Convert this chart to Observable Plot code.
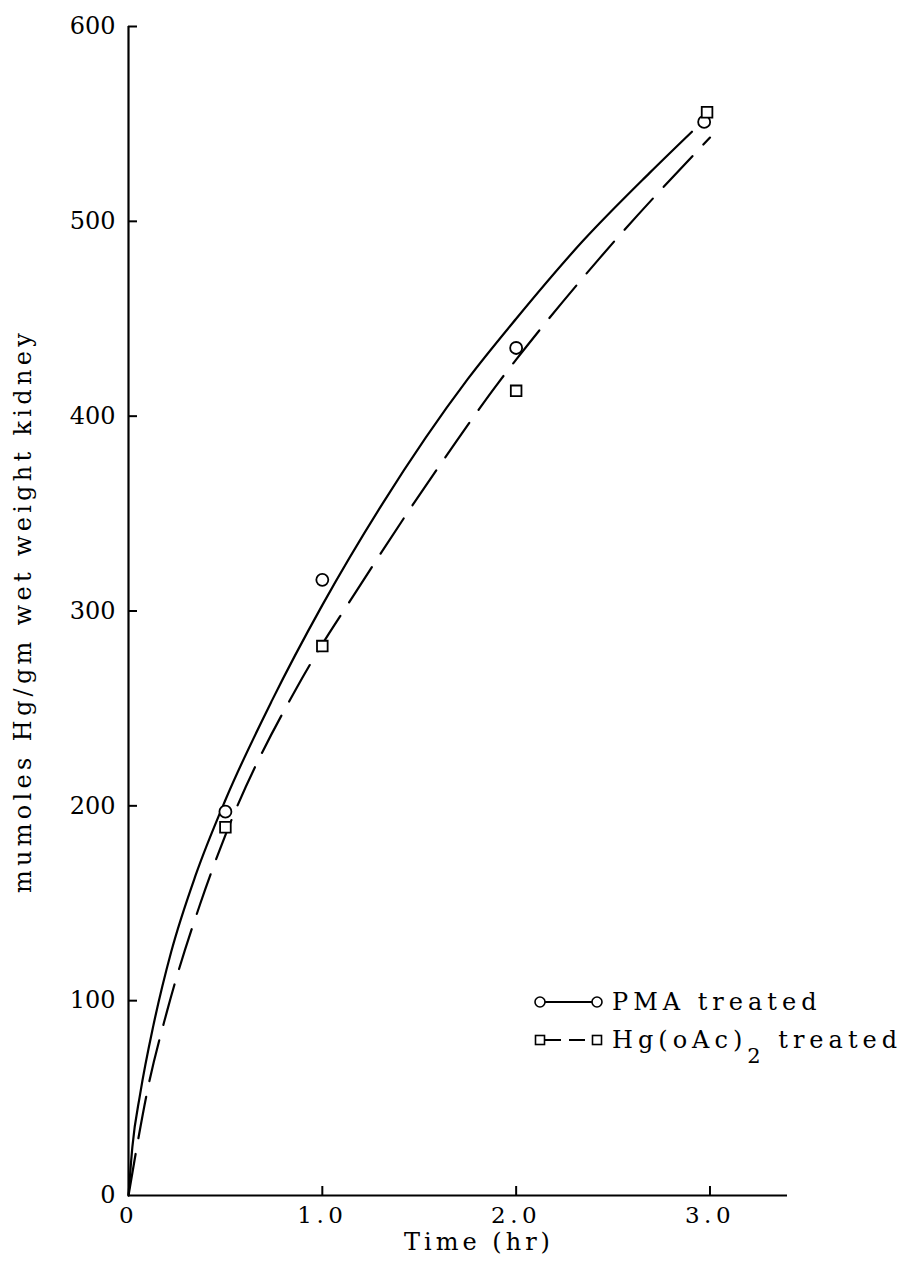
<!DOCTYPE html>
<html>
<head>
<meta charset="utf-8">
<script src="https://cdn.jsdelivr.net/npm/d3@7"></script>
<script src="https://cdn.jsdelivr.net/npm/@observablehq/plot@0.6"></script>
<style>
  html, body { margin: 0; padding: 0; background: #fff; }
  #chart { position: relative; width: 903px; height: 1262px; }
</style>
</head>
<body>
<div id="chart"></div>
<script>
// ---- data ----
const xTicks = [0, 1, 2, 3];
const xTickLabels = ["0", "1.0", "2.0", "3.0"];
const yTicks = [0, 100, 200, 300, 400, 500, 600];

// measured points
const pmaT = [0.5, 1.0, 2.0, 2.97];
const pmaV = [197, 316, 435, 551];
const hgT = [0.5, 1.0, 2.0, 2.985];
const hgV = [189, 282, 413, 556];

// fitted curves as drawn
const pmaCurveT = [0, 0.02, 0.06, 0.13, 0.22, 0.345, 0.5, 0.74, 1.0, 1.31, 1.75, 2.0, 2.345, 2.69, 2.907];
const pmaCurveV = [0, 25, 52, 88, 125, 164, 203, 254, 303, 355, 419, 450, 490, 525, 546];
const hgCurveT = [0, 0.045, 0.1, 0.2, 0.371, 0.5, 0.876, 1.0, 1.129, 1.45, 1.67, 1.907, 2.0, 2.43, 3.0];
const hgCurveV = [0, 26, 55, 95, 150, 185, 262, 283, 303, 352, 384, 417, 429, 481, 543];

const seriesLabels = ["PMA treated", "Hg(oAc)", "2", " treated"];
const xTitle = "Time (hr)";
const yTitle = "mumoles Hg/gm wet weight kidney";

// ---- build tables ----
const zip = (T, V) => T.map((t, i) => ({t, v: V[i]}));
const pmaPts = zip(pmaT, pmaV), hgPts = zip(hgT, hgV);
const pmaCurve = zip(pmaCurveT, pmaCurveV), hgCurve = zip(hgCurveT, hgCurveV);

const W = 903, H = 1262, mL = 128, mR = 116, mT = 26, mB = 67;
const frameW = W - mL - mR, frameH = H - mT - mB;
const FONT = "DejaVu Serif";

const plot = Plot.plot({
  width: W, height: H,
  marginLeft: mL, marginRight: mR, marginTop: mT, marginBottom: mB,
  style: {fontFamily: FONT, fontSize: "24px", color: "#000", background: "#fff", overflow: "visible"},
  x: {domain: [0, 3.4]},
  y: {domain: [0, 600]},
  marks: [
    Plot.axisX({ticks: xTicks, tickSize: 0, tickPadding: 11, fontSize: 23,
      tickFormat: d => xTickLabels[xTicks.indexOf(d)], label: null}),
    Plot.axisY({ticks: yTicks, tickSize: 0, tickPadding: 13, fontSize: 24, label: null}),
    Plot.ruleX([0], {stroke: "#000", strokeWidth: 2.2}),
    Plot.ruleY([0], {stroke: "#000", strokeWidth: 2.2}),
    Plot.ruleY(yTicks.filter(d => d > 0), {stroke: "#000", strokeWidth: 2, insetRight: frameW - 9}),
    Plot.ruleX(xTicks.filter(d => d > 0), {stroke: "#000", strokeWidth: 2, insetTop: frameH - 9}),
    Plot.line(pmaCurve, {x: "t", y: "v", curve: "monotone-x", stroke: "#000", strokeWidth: 2.2}),
    Plot.line(hgCurve, {x: "t", y: "v", curve: "monotone-x", stroke: "#000", strokeWidth: 2.2, strokeDasharray: "42,16"}),
    Plot.dot(pmaPts, {x: "t", y: "v", symbol: "circle", r: 6, stroke: "#000", fill: "#fff", strokeWidth: 1.8}),
    Plot.dot(hgPts, {x: "t", y: "v", symbol: "square", r: 6, stroke: "#000", fill: "#fff", strokeWidth: 1.8}),
    Plot.text([xTitle], {text: d => d, frameAnchor: "bottom", textAnchor: "middle", lineAnchor: "top",
      dx: 21, dy: 37, fontSize: 24, fill: "#000"}),
    Plot.text([yTitle], {text: d => d, frameAnchor: "left", textAnchor: "middle", lineAnchor: "middle",
      rotate: -90, dx: -105, fontSize: 24, fill: "#000"})
  ]
});

document.getElementById("chart").appendChild(plot);
const svg = d3.select(plot);
svg.selectAll('g[aria-label="x-axis tick label"] text').attr("letter-spacing", 4.5);
svg.selectAll("text").filter(function() { return this.textContent === xTitle; }).attr("letter-spacing", 4);
svg.selectAll("text").filter(function() { return this.textContent === yTitle; }).attr("letter-spacing", 4.3);

// ---- legend (inside the frame, lower right) ----
const lg = svg.append("g").attr("fill", "none").attr("stroke", "#000").attr("stroke-width", 1.6);
const r1 = 1002, r2 = 1040, cx1 = 540, cx2 = 597, tx = 612;
lg.append("line").attr("x1", cx1 + 5).attr("x2", cx2 - 5).attr("y1", r1).attr("y2", r1).attr("stroke-width", 2);
lg.append("circle").attr("cx", cx1).attr("cy", r1).attr("r", 5).attr("fill", "#fff");
lg.append("circle").attr("cx", cx2).attr("cy", r1).attr("r", 5).attr("fill", "#fff");
lg.append("line").attr("x1", cx1 + 5).attr("x2", cx2 - 5).attr("y1", r2).attr("y2", r2)
  .attr("stroke-width", 2).attr("stroke-dasharray", "16,8");
lg.append("rect").attr("x", cx1 - 4.5).attr("y", r2 - 4.5).attr("width", 9).attr("height", 9).attr("fill", "#fff");
lg.append("rect").attr("x", cx2 - 4.5).attr("y", r2 - 4.5).attr("width", 9).attr("height", 9).attr("fill", "#fff");

const lt = svg.append("g").attr("font-family", FONT).attr("font-size", 24).attr("fill", "#000")
  .attr("text-anchor", "start").attr("letter-spacing", 5);
lt.append("text").attr("x", tx).attr("y", r1 + 8).text(seriesLabels[0]);
const t2 = lt.append("text").attr("x", tx).attr("y", r2 + 8);
t2.append("tspan").text(seriesLabels[1]);
t2.append("tspan").attr("dy", 15).attr("font-size", 21).text(seriesLabels[2]);
t2.append("tspan").attr("dy", -15).text(seriesLabels[3]);
</script>
</body>
</html>
